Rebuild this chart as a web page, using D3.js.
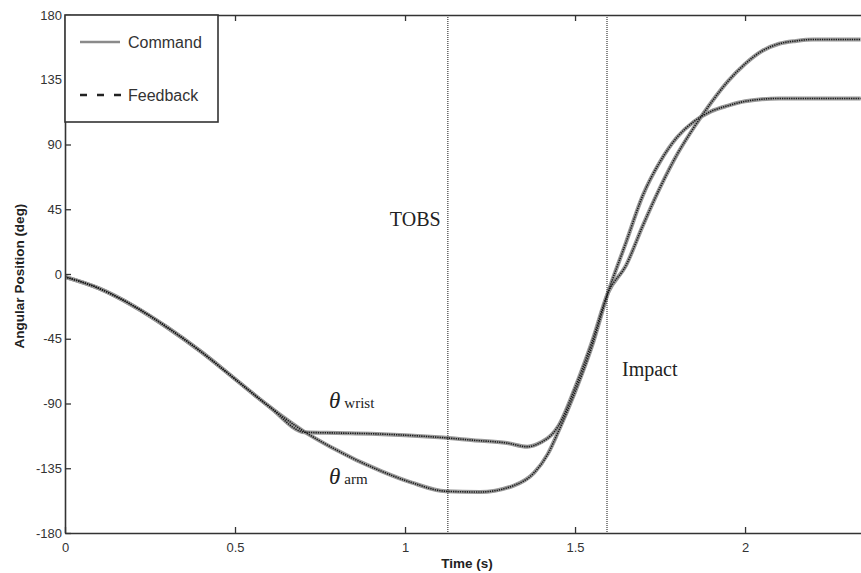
<!DOCTYPE html>
<html>
<head>
<meta charset="utf-8">
<script src="https://cdn.jsdelivr.net/npm/d3@7"></script>
<style>
  html, body { margin: 0; padding: 0; background: #fff; }
  svg { display: block; }
  .tick text { font-family: "Liberation Sans", Arial, sans-serif; font-size: 13px; fill: #333; }
</style>
</head>
<body>
<svg id="chart" width="861" height="573"></svg>
<script>
// Joint trajectories (time in s, angle in deg)
const armTime      = [0, 0.1, 0.2, 0.3, 0.4, 0.5, 0.6, 0.7, 0.78, 0.93, 1.02, 1.12, 1.22, 1.32, 1.38, 1.42, 1.45, 1.5, 1.55, 1.597, 1.65, 1.7, 1.75, 1.8, 1.85, 1.9, 1.95, 2.0, 2.1, 2.2, 2.34];
const armCommand   = [-2, -10, -22, -37, -54, -73, -92, -109, -120, -137, -145, -151, -151.5, -147, -138, -125, -110, -82, -50, -13, 22, 55, 78, 95, 106, 113, 117, 120, 122, 122, 122];
const armFeedback  = [-2, -10, -22, -37, -54, -73, -92, -109, -120, -137, -145, -151, -151.5, -147, -138, -125, -110, -82, -50, -13, 22, 55, 78, 95, 106, 113, 117, 120, 122, 122, 122];

const wristTime     = [0, 0.1, 0.2, 0.3, 0.4, 0.5, 0.6, 0.706, 0.8, 0.9, 1.0, 1.1, 1.2, 1.3, 1.36, 1.4, 1.43, 1.45, 1.5, 1.55, 1.597, 1.65, 1.7, 1.75, 1.8, 1.85, 1.9, 1.95, 2.0, 2.05, 2.1, 2.15, 2.2, 2.34];
const wristCommand  = [-2, -10, -22, -37, -54, -73, -92, -110, -110.5, -111, -112, -113.5, -115.5, -117.5, -120, -117, -112, -106, -79, -47, -13, 6, 34, 60, 83, 102, 119, 134, 146, 155, 160, 162, 163, 163];
const wristFeedback = [-2, -10, -22, -37, -54, -73, -92, -110, -110.5, -111, -112, -113.5, -115.5, -117.5, -120, -117, -112, -106, -79, -47, -13, 6, 34, 60, 83, 102, 119, 134, 146, 155, 160, 162, 163, 163];

// Event markers
const eventNames = ["TOBS", "Impact"];
const eventTimes = [1.126, 1.594];

// Axis ticks
const xTicks = [0, 0.5, 1, 1.5, 2];
const xTickLabels = ["0", "0.5", "1", "1.5", "2"];
const yTicks = [-180, -135, -90, -45, 0, 45, 90, 135, 180];

const legendNames = ["Command", "Feedback"];

const svg = d3.select("#chart");
const plotLeft = 65, plotRight = 861, plotTop = 15, plotBottom = 533;

const x = d3.scaleLinear().domain([0, 2.341]).range([plotLeft, plotRight]);
const y = d3.scaleLinear().domain([-180, 180]).range([plotBottom, plotTop]);

// Clip region for plotted data
svg.append("defs").append("clipPath").attr("id", "plot-clip")
  .append("rect").attr("x", plotLeft).attr("y", plotTop)
  .attr("width", plotRight - plotLeft).attr("height", plotBottom - plotTop);

const plot = svg.append("g").attr("clip-path", "url(#plot-clip)");

const line = d3.line().curve(d3.curveMonotoneX).x(d => x(d[0])).y(d => y(d[1]));
const pairs = (t, v) => t.map((ti, i) => [ti, v[i]]);

// Command traces: wide grey bands
[[armTime, armCommand], [wristTime, wristCommand]].forEach(([t, v]) => {
  plot.append("path").attr("d", line(pairs(t, v)))
    .attr("fill", "none").attr("stroke", "#9a9a9a").attr("stroke-width", 4)
    .attr("stroke-linejoin", "round");
});
// Feedback traces: fine black dots on top
[[armTime, armFeedback], [wristTime, wristFeedback]].forEach(([t, v]) => {
  plot.append("path").attr("d", line(pairs(t, v)))
    .attr("fill", "none").attr("stroke", "#1a1a1a").attr("stroke-width", 1.6)
    .attr("stroke-dasharray", "1.3,1");
});

// Event lines
eventTimes.forEach(t => {
  plot.append("line")
    .attr("x1", x(t)).attr("x2", x(t)).attr("y1", plotTop).attr("y2", plotBottom)
    .attr("stroke", "#111").attr("stroke-width", 1).attr("stroke-dasharray", "1,1");
});

// Axes (ticks pointing inward)
const axisColor = "#333";
const xAxis = svg.append("g").attr("transform", `translate(0,${plotBottom})`)
  .call(d3.axisBottom(x).tickValues(xTicks).tickFormat((d, i) => xTickLabels[i]).tickSizeInner(-6).tickSizeOuter(0).tickPadding(10));
const xAxisTop = svg.append("g").attr("transform", `translate(0,${plotTop})`)
  .call(d3.axisTop(x).tickValues(xTicks).tickFormat("").tickSizeInner(-6).tickSizeOuter(0));
const yAxis = svg.append("g").attr("transform", `translate(${plotLeft},0)`)
  .call(d3.axisLeft(y).tickValues(yTicks).tickFormat(d => String(d)).tickSizeInner(-6).tickSizeOuter(0).tickPadding(3));
[xAxis, xAxisTop, yAxis].forEach(g => {
  g.select(".domain").attr("stroke", axisColor).attr("stroke-width", 1.6);
  g.selectAll(".tick line").attr("stroke", axisColor).attr("stroke-width", 1.3);
});

// Axis titles
svg.append("text").attr("x", 467).attr("y", 568).attr("text-anchor", "middle")
  .attr("font-family", "Liberation Sans, Arial, sans-serif").attr("font-weight", "bold")
  .attr("font-size", 13.5).attr("fill", "#222").text("Time (s)");
svg.append("text").attr("transform", "translate(24,276) rotate(-90)").attr("text-anchor", "middle")
  .attr("font-family", "Liberation Sans, Arial, sans-serif").attr("font-weight", "bold")
  .attr("font-size", 13.5).attr("fill", "#222").text("Angular Position (deg)");

// Event annotations
const serif = "Liberation Serif, Times New Roman, serif";
svg.append("text").attr("x", x(eventTimes[0]) - 58).attr("y", 226)
  .attr("font-family", serif).attr("font-size", 20).attr("fill", "#222").text(eventNames[0]);
svg.append("text").attr("x", x(eventTimes[1]) + 15).attr("y", 376)
  .attr("font-family", serif).attr("font-size", 20).attr("fill", "#222").text(eventNames[1]);

// Joint labels
function thetaLabel(px, py, sub) {
  const t = svg.append("text").attr("x", px).attr("y", py).attr("font-family", serif).attr("fill", "#222");
  t.append("tspan").attr("font-style", "italic").attr("font-size", 23).text("θ");
  t.append("tspan").attr("dx", 4).attr("font-size", 15).text(sub);
}
thetaLabel(329, 408, "wrist");
thetaLabel(329, 484, "arm");

// Legend
const lg = svg.append("g");
lg.append("rect").attr("x", plotLeft).attr("y", plotTop).attr("width", 153).attr("height", 107)
  .attr("fill", "#fff").attr("stroke", axisColor).attr("stroke-width", 1.6);
lg.append("line").attr("x1", 80).attr("x2", 120).attr("y1", 42).attr("y2", 42)
  .attr("stroke", "#8a8a8a").attr("stroke-width", 2.5);
lg.append("line").attr("x1", 80).attr("x2", 121).attr("y1", 95).attr("y2", 95)
  .attr("stroke", "#222").attr("stroke-width", 2.5).attr("stroke-dasharray", "7,10");
lg.selectAll("text.leg").data(legendNames).join("text").attr("class", "leg")
  .attr("x", 128).attr("y", (d, i) => [48, 101][i])
  .attr("font-family", "Liberation Sans, Arial, sans-serif").attr("font-size", 16).attr("fill", "#333")
  .text(d => d);
</script>
</body>
</html>
